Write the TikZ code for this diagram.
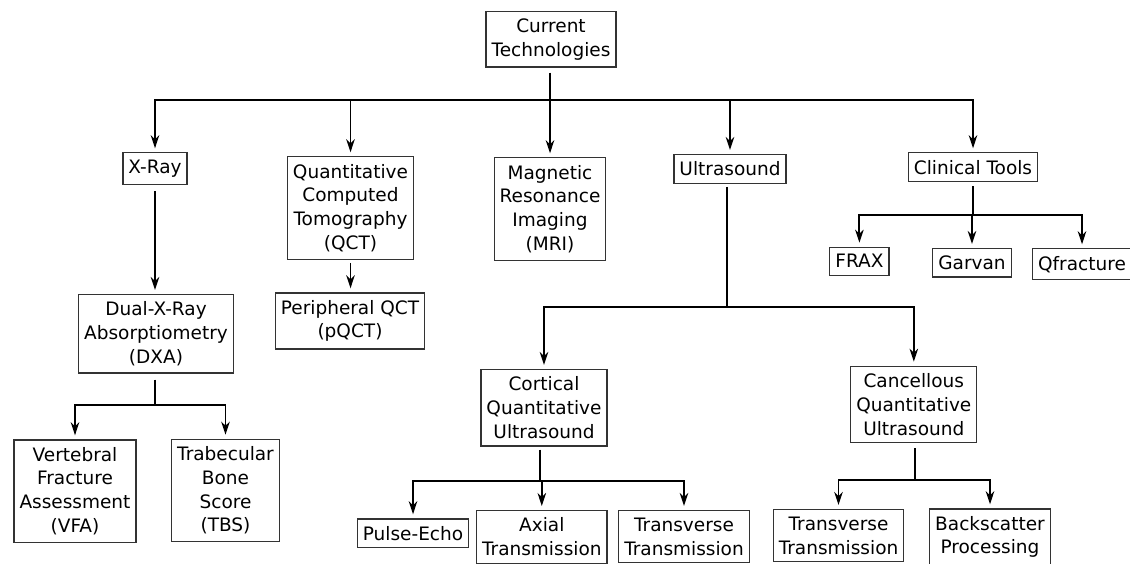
\documentclass[tikz,border=0pt]{standalone}
\usepackage{fontspec}
\setmainfont{DejaVu Sans}
\usetikzlibrary{arrows.meta}

\begin{document}
\begin{tikzpicture}[x=1pt,y=-1pt,
    box/.style={draw=black!80, line width=1.2pt, anchor=north, align=center,
      inner xsep=5.5pt, inner ysep=7.2pt,
      font=\fontsize{18.5}{23.8}\selectfont},
    conn/.style={line width=1.9pt},
    arr/.style={conn, -{Stealth[length=13pt,width=8.5pt,inset=4pt]}, shorten >=4pt}]
    \useasboundingbox (0,0) rectangle (1130,564);
    \clip (0,0) rectangle (1130,564);
    % top level
    \node[box] (root) at (551,10.7) {Current\\Technologies};
    \node[box] (xray) at (155,152.3) {X-Ray};
    \node[box] (qct) at (350.5,156.3) {Quantitative\\Computed\\Tomography\\(QCT)};
    \node[box] (mri) at (550,157.3) {Magnetic\\Resonance\\Imaging\\(MRI)};
    \node[box] (us) at (730,154) {Ultrasound};
    \node[box] (clin) at (973,152.3) {Clinical Tools};
    % second level
    \node[box] (dxa) at (156,294) {Dual-X-Ray\\Absorptiometry\\(DXA)};
    \node[box] (pqct) at (350,292.3) {Peripheral QCT\\(pQCT)};
    \node[box] (frax) at (859.4,246.7) {FRAX};
    \node[box] (garvan) at (972,248) {Garvan};
    \node[box] (qfrac) at (1082,248.3) {Qfracture};
    \node[box] (cort) at (544,369) {Cortical\\Quantitative\\Ultrasound};
    \node[box] (canc) at (913.8,365.7) {Cancellous\\Quantitative\\Ultrasound};
    % bottom level
    \node[box] (vfa) at (75,439.3) {Vertebral\\Fracture\\Assessment\\(VFA)};
    \node[box] (tbs) at (225.5,438.7) {Trabecular\\Bone\\Score\\(TBS)};
    \node[box] (pulse) at (413,518.3) {Pulse-Echo};
    \node[box] (axial) at (541.8,510) {Axial\\Transmission};
    \node[box] (transa) at (684,510) {Transverse\\Transmission};
    \node[box] (transb) at (838.5,509) {Transverse\\Transmission};
    \node[box] (back) at (990,508.3) {Backscatter\\Processing};
    % bus points
    \coordinate (rb) at (550,100);
    \coordinate (db) at (155,405.3);
    \coordinate (ub) at (727,307);
    \coordinate (cb) at (973,215);
    \coordinate (ob) at (540,481.3);
    \coordinate (kb) at (915,480);
    % connectors
    \draw[conn, shorten <=5pt] (root.south -| rb) -- (rb);
    \foreach \n in {xray,qct,mri,us,clin}
      \draw[arr] (rb) -| (\n.north);
    \draw[arr, shorten <=6pt] (xray.south) -- (xray.south |- dxa.north);
    \draw[arr, shorten <=3pt] (qct.south) -- (qct.south |- pqct.north);
    \draw[conn, shorten <=6pt] (dxa.south -| db) -- (db);
    \foreach \n in {vfa,tbs}
      \draw[arr] (db) -| (\n.north);
    \draw[conn, shorten <=3pt] (us.south -| ub) -- (ub);
    \foreach \n in {cort,canc}
      \draw[arr] (ub) -| (\n.north);
    \draw[conn, shorten <=4pt] (clin.south) -- (cb);
    \foreach \n in {frax,garvan,qfrac}
      \draw[arr] (cb) -| (\n.north);
    \draw[conn, shorten <=3pt] (cort.south -| ob) -- (ob);
    \foreach \n in {pulse,axial,transa}
      \draw[arr] (ob) -| (\n.north);
    \draw[conn, shorten <=5pt] (canc.south -| kb) -- (kb);
    \foreach \n in {transb,back}
      \draw[arr] (kb) -| (\n.north);
\end{tikzpicture}
\end{document}
